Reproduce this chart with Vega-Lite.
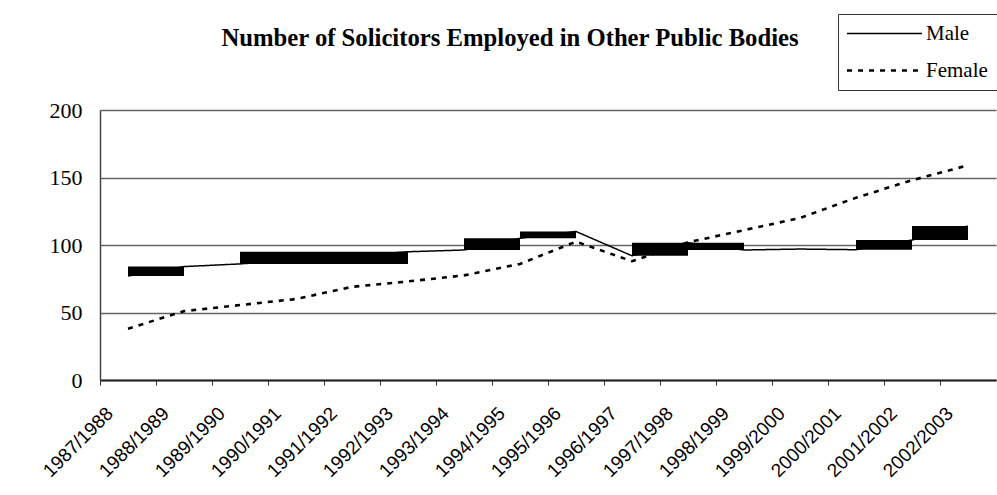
{
  "$schema": "https://vega.github.io/schema/vega-lite/v6.json",
  "autosize": "none",
  "width": 896,
  "height": 270,
  "padding": {"left": 100, "top": 110, "right": 1, "bottom": 115},
  "background": "white",
  "title": {
    "text": "Number of Solicitors Employed in Other Public Bodies",
    "font": "Liberation Serif",
    "fontSize": 24.7,
    "fontWeight": "bold",
    "color": "black",
    "anchor": "middle",
    "dx": -38,
    "offset": -37
  },
  "config": {
    "view": {"stroke": null},
    "axis": {"labelColor": "black"}
  },
  "datasets": {
    "lines": [
      {"year": "1987/1988", "sex": "Male", "count": 77},
      {"year": "1988/1989", "sex": "Male", "count": 84},
      {"year": "1989/1990", "sex": "Male", "count": 86},
      {"year": "1990/1991", "sex": "Male", "count": 89},
      {"year": "1991/1992", "sex": "Male", "count": 92},
      {"year": "1992/1993", "sex": "Male", "count": 95},
      {"year": "1993/1994", "sex": "Male", "count": 96.3},
      {"year": "1994/1995", "sex": "Male", "count": 105},
      {"year": "1995/1996", "sex": "Male", "count": 110},
      {"year": "1996/1997", "sex": "Male", "count": 92},
      {"year": "1997/1998", "sex": "Male", "count": 101.7},
      {"year": "1998/1999", "sex": "Male", "count": 96.3},
      {"year": "1999/2000", "sex": "Male", "count": 97},
      {"year": "2000/2001", "sex": "Male", "count": 96.5},
      {"year": "2001/2002", "sex": "Male", "count": 103.7},
      {"year": "2002/2003", "sex": "Male", "count": 114},
      {"year": "1987/1988", "sex": "Female", "count": 38},
      {"year": "1988/1989", "sex": "Female", "count": 51},
      {"year": "1989/1990", "sex": "Female", "count": 55.5},
      {"year": "1990/1991", "sex": "Female", "count": 60},
      {"year": "1991/1992", "sex": "Female", "count": 69},
      {"year": "1992/1993", "sex": "Female", "count": 73},
      {"year": "1993/1994", "sex": "Female", "count": 77.5},
      {"year": "1994/1995", "sex": "Female", "count": 86},
      {"year": "1995/1996", "sex": "Female", "count": 102.5},
      {"year": "1996/1997", "sex": "Female", "count": 88},
      {"year": "1997/1998", "sex": "Female", "count": 102},
      {"year": "1998/1999", "sex": "Female", "count": 111},
      {"year": "1999/2000", "sex": "Female", "count": 120},
      {"year": "2000/2001", "sex": "Female", "count": 135},
      {"year": "2001/2002", "sex": "Female", "count": 148},
      {"year": "2002/2003", "sex": "Female", "count": 159}
    ],
    "blocks": [
      {"start": "1987/1988", "end": "1988/1989", "low": 77, "high": 84},
      {"start": "1989/1990", "end": "1992/1993", "low": 86, "high": 95},
      {"start": "1993/1994", "end": "1994/1995", "low": 96.3, "high": 105},
      {"start": "1994/1995", "end": "1995/1996", "low": 105, "high": 110},
      {"start": "1996/1997", "end": "1997/1998", "low": 92, "high": 101.7},
      {"start": "1997/1998", "end": "1998/1999", "low": 96.3, "high": 101.7},
      {"start": "2000/2001", "end": "2001/2002", "low": 96.5, "high": 103.7},
      {"start": "2001/2002", "end": "2002/2003", "low": 103.7, "high": 114}
    ]
  },
  "layer": [
    {
      "data": {"name": "lines"},
      "mark": {"type": "line", "color": "black"},
      "encoding": {
        "x": {
          "field": "year",
          "type": "ordinal",
          "sort": null,
          "scale": {"type": "band", "paddingInner": 0, "paddingOuter": 0},
          "axis": {
            "title": null,
            "bandPosition": 0,
            "labelAngle": -45,
            "labelAlign": "right",
            "labelBaseline": "middle",
            "labelFont": "Liberation Sans",
            "labelFontSize": 19,
            "labelOffset": -18,
            "labelPadding": 25,
            "tickSize": 5,
            "tickColor": "#333333",
            "domainColor": "#222222",
            "domainWidth": 2,
            "grid": false
          }
        },
        "y": {
          "field": "count",
          "type": "quantitative",
          "scale": {"domain": [0, 200]},
          "axis": {
            "title": null,
            "values": [0, 50, 100, 150, 200],
            "ticks": false,
            "labelPadding": 18,
            "labelFont": "Liberation Serif",
            "labelFontSize": 22,
            "domainColor": "#444444",
            "domainWidth": 1.5,
            "grid": true,
            "gridColor": "#666666",
            "gridWidth": 1.3
          }
        },
        "strokeWidth": {
          "field": "sex",
          "type": "nominal",
          "scale": {"domain": ["Male", "Female"], "range": [1.5, 2.6]},
          "legend": null
        },
        "strokeDash": {
          "field": "sex",
          "type": "nominal",
          "scale": {"domain": ["Male", "Female"], "range": [[1, 0], [5, 6]]},
          "legend": {
            "title": null,
            "orient": "none",
            "legendX": 738,
            "legendY": -96,
            "strokeColor": "#333333",
            "padding": 9,
            "symbolType": "M-5,0H5",
            "symbolSize": 225,
            "symbolOffset": 27,
            "symbolStrokeColor": "black",
            "symbolStrokeWidth": 1.8,
            "labelFont": "Liberation Serif",
            "labelFontSize": 21,
            "labelColor": "black",
            "labelOffset": 31,
            "rowPadding": 15,
            "labelLimit": 300
          }
        }
      }
    },
    {
      "data": {"name": "blocks"},
      "mark": {"type": "rect", "color": "black"},
      "encoding": {
        "x": {"field": "start", "type": "ordinal", "sort": null, "bandPosition": 0.5},
        "x2": {"field": "end", "bandPosition": 0.5},
        "y": {"field": "low", "type": "quantitative"},
        "y2": {"field": "high"}
      }
    }
  ]
}
